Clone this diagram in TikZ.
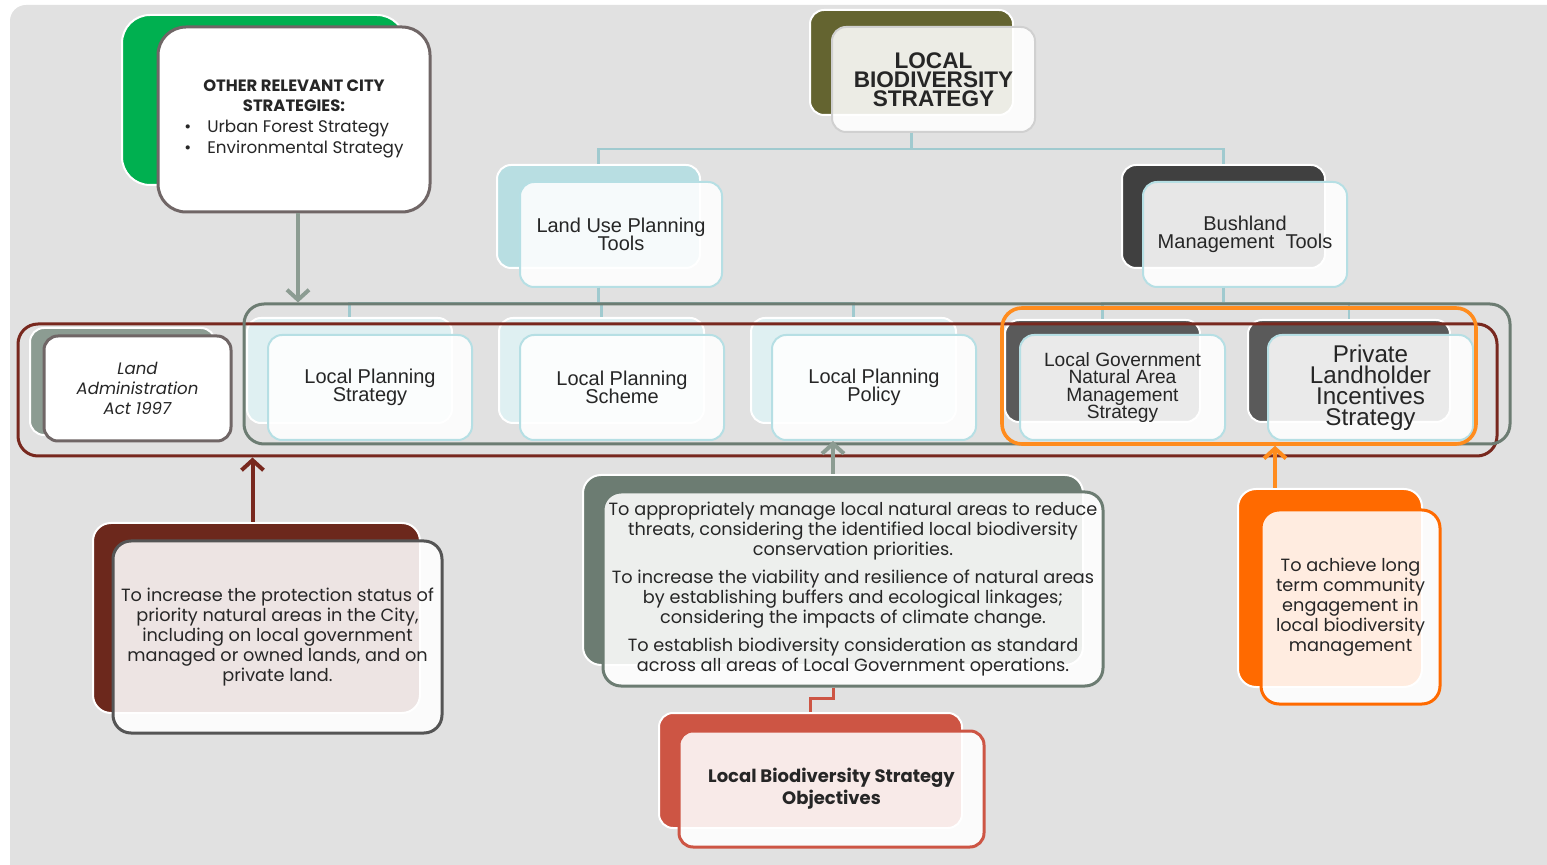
\documentclass[tikz,border=0pt]{standalone}
\usepackage{fontspec}
\setmainfont{Poppins}
\newfontfamily\arialfont{Liberation Sans}
\usetikzlibrary{positioning,arrows.meta}
\definecolor{pagegray}{RGB}{225,225,225}
\definecolor{citygreen}{RGB}{0,176,80}
\definecolor{olivetab}{RGB}{100,100,48}
\definecolor{tealtab}{RGB}{184,222,226}
\definecolor{teallight}{RGB}{223,240,242}
\definecolor{tealline}{RGB}{160,202,207}
\definecolor{tealedge}{RGB}{182,223,228}
\definecolor{paleedge}{RGB}{208,208,208}
\definecolor{darktab}{RGB}{64,64,64}
\definecolor{midtab}{RGB}{90,90,90}
\definecolor{sage}{RGB}{108,124,114}
\definecolor{sagelight}{RGB}{140,156,146}
\definecolor{maroon}{RGB}{120,40,30}
\definecolor{maroontab}{RGB}{108,40,28}
\definecolor{ringorange}{RGB}{255,140,30}
\definecolor{deeporange}{RGB}{255,106,0}
\definecolor{brick}{RGB}{205,85,68}
\definecolor{greybrown}{RGB}{112,102,102}
\definecolor{darkedge}{RGB}{85,85,85}
\definecolor{inkgray}{RGB}{38,38,38}
\newcommand\tightlines{\lineskiplimit=-20pt\relax}
\tikzset{
  boxsize/.style 2 args={minimum width=#1*0.5pt, minimum height=#2*0.5pt},
  tab/.style={rounded corners=7pt, draw=white, line width=1pt, inner sep=0pt},
  card/.style={rounded corners=7pt, fill=white, fill opacity=0.88, text opacity=1,
    line width=1pt, inner sep=0pt, align=center, text=inkgray},
  frame/.style={rounded corners=10pt, line width=1.5pt, inner sep=0pt},
  tree/.style={draw=tealline, line width=1.3pt},
  uparrow/.style={-{Straight Barb[length=5pt,width=11pt]}, line width=2pt},
  arialtext/.style={font=\arialfont\fontsize{10}{8.8}\selectfont\tightlines},
  gothic/.style={font=\fontsize{8.85}{10}\selectfont}
}
\begin{document}
\begin{tikzpicture}[x=0.5pt,y=-0.5pt]
\useasboundingbox (0,0) rectangle (1547,865);
\fill[pagegray, rounded corners=8pt] (10,5) rectangle (1570,890);

% top of the tree
\node[tab, fill=olivetab, boxsize={203}{105}] (lbsTab) at (911.5,62.5) {};
\node[card, draw=paleedge, boxsize={203}{105}, font=\arialfont\bfseries\fontsize{11.3}{9.6}\selectfont\tightlines] (lbs) at (933.5,79.5) {LOCAL\\BIODIVERSITY\\STRATEGY};
\node[tab, fill=tealtab, boxsize={203}{103}] (lutTab) at (598.5,216.5) {};
\node[card, draw=tealedge, boxsize={202}{105}, arialtext] (lut) at (621,234.5) {Land Use Planning\\Tools};
\node[tab, fill=darktab, boxsize={203}{103}] (bmtTab) at (1223.5,216.5) {};
\node[card, draw=tealedge, boxsize={204}{105}, arialtext] (bmt) at (1245,234.5) {Bushland\\Management\ \ Tools};

% other strategies
\node[tab, fill=citygreen, boxsize={283}{170}, rounded corners=14pt] (orsTab) at (263.5,100) {};
\node[card, fill opacity=1, draw=greybrown, line width=1.5pt, rounded corners=14pt, boxsize={272}{185}, font=\fontsize{8.4}{10}\selectfont] (ors) at (294,119.5)
  {{\fontsize{8.2}{10}\selectfont\textbf{OTHER RELEVANT CITY}}\\{\fontsize{8.2}{10}\selectfont\textbf{STRATEGIES:}}\\[0.5pt]
   \begin{tabular}[t]{@{}l@{}}\textbullet\hspace{8pt}Urban Forest Strategy\\[0.5pt]\textbullet\hspace{8pt}Environmental Strategy\end{tabular}};

% planning row
\node[tab, fill=sagelight, boxsize={185}{107}] (laaTab) at (122.5,381.5) {};
\node[card, fill opacity=1, draw=greybrown, line width=1.5pt, boxsize={187}{105}, font=\itshape\fontsize{8.3}{10}\selectfont] (laa) at (137.5,388.5) {Land\\Administration\\Act 1997};
\node[tab, fill=teallight, boxsize={205}{105}] (lpsTab) at (349.5,370.5) {};
\node[tab, fill=teallight, boxsize={205}{105}] (lscTab) [right=22.5pt of lpsTab] {};
\node[tab, fill=teallight, boxsize={205}{105}] (lppTab) [right=22.5pt of lscTab] {};
\node[card, draw=tealedge, boxsize={204}{105}, arialtext] (lps) at (370,387.5) {Local Planning\\Strategy};
\node[card, draw=tealedge, boxsize={204}{105}, arialtext] (lsc) [right=23pt of lps] {Local Planning\\Scheme};
\node[card, draw=tealedge, boxsize={204}{105}, arialtext] (lpp) [right=23pt of lsc] {Local Planning\\Policy};

% bushland row
\node[tab, fill=midtab, boxsize={195}{102}] (lgTab) at (1102.5,371) {};
\node[card, draw=tealedge, boxsize={205}{105}, font=\arialfont\fontsize{9.6}{8.7}\selectfont\tightlines] (lg) at (1122.5,387.5) {Local Government\\Natural Area\\Management\\Strategy};
\node[tab, fill=midtab, boxsize={202}{102}] (plTab) at (1349,371) {};
\node[card, draw=tealedge, boxsize={205}{105}, font=\arialfont\fontsize{12.1}{10.5}\selectfont\tightlines] (pl) at (1370.5,387.5) {Private\\Landholder\\Incentives\\Strategy};

% tree lines
\draw[tree] (lbsTab.south |- lbs.south) -- ++(0,16) -| (lutTab.north);
\draw[tree] (lbsTab.south |- lbs.south) -- ++(0,16) -| (bmtTab.north);
\draw[tree] (lutTab.south |- lut.south) -- ++(0,15) -| (lpsTab.north);
\draw[tree] (lutTab.south |- lut.south) -- ++(0,15) -| (lscTab.north);
\draw[tree] (lutTab.south |- lut.south) -- ++(0,15) -| (lppTab.north);
\draw[tree] (bmtTab.south |- bmt.south) -- ++(0,15) -| (lgTab.north);
\draw[tree] (bmtTab.south |- bmt.south) -- ++(0,15) -| (plTab.north);

% group outlines
\node[frame, draw=maroon, boxsize={1479}{132}] (all) at (757.5,390) {};
\node[frame, draw=sage, boxsize={1266}{140}] (plan) at (877,374) {};
\node[frame, draw=ringorange, line width=1.8pt, boxsize={474}{136}] (bush) at (1239,376) {};

% objectives
\node[tab, fill=maroontab, boxsize={327}{190}, rounded corners=9pt] (protTab) at (256.5,618) {};
\node[card, draw=darkedge, line width=1.5pt, rounded corners=9pt, boxsize={329}{192}, gothic] (prot) at (277.5,637)
  {To increase the protection status of\\priority natural areas in the City,\\including on local government\\managed or owned lands, and on\\private land.};
\node[tab, fill=sage, boxsize={500}{190}, rounded corners=9pt] (mgmtTab) at (833,570) {};
\node[card, draw=sage, line width=1.5pt, rounded corners=9pt, boxsize={500}{194}, gothic] (mgmt) at (853,589)
  {To appropriately manage local natural areas to reduce\\threats, considering the identified local biodiversity\\conservation priorities.\\[4pt]
   To increase the viability and resilience of natural areas\\by establishing buffers and ecological linkages;\\considering the impacts of climate change.\\[4pt]
   To establish biodiversity consideration as standard\\across all areas of Local Government operations.};
\node[tab, fill=deeporange, boxsize={184}{198}, rounded corners=9pt] (commTab) at (1330,588) {};
\node[card, draw=deeporange, line width=1.5pt, rounded corners=9pt, boxsize={179}{194}, gothic] (comm) at (1350.5,607)
  {To achieve long\\term community\\engagement in\\local biodiversity\\management};
\node[tab, fill=brick, boxsize={303}{115}] (objTab) at (810.5,770.5) {};
\node[card, draw=brick, line width=1.5pt, boxsize={305}{116}, font=\bfseries\fontsize{9}{11}\selectfont] (obj) at (831.5,789)
  {Local Biodiversity Strategy\\Objectives};

% arrows
\draw[uparrow, draw=sagelight] ([xshift=2pt]ors.south) -- ([xshift=2pt]ors.south |- plan.north);
\draw[uparrow, draw=maroon] ([xshift=-2pt]protTab.north) -- ([xshift=-2pt]protTab.north |- all.south);
\draw[uparrow, draw=sagelight] (mgmtTab.north) -- (mgmtTab.north |- lpp.south);
\draw[uparrow, draw=ringorange] ([xshift=-27.5pt]commTab.north) -- ([xshift=-27.5pt]commTab.north |- bush.south);
\draw[draw=brick, line width=1.5pt] (mgmtTab.south |- mgmt.south) -- ++(0,11) -| (objTab.north);
\end{tikzpicture}
\end{document}
